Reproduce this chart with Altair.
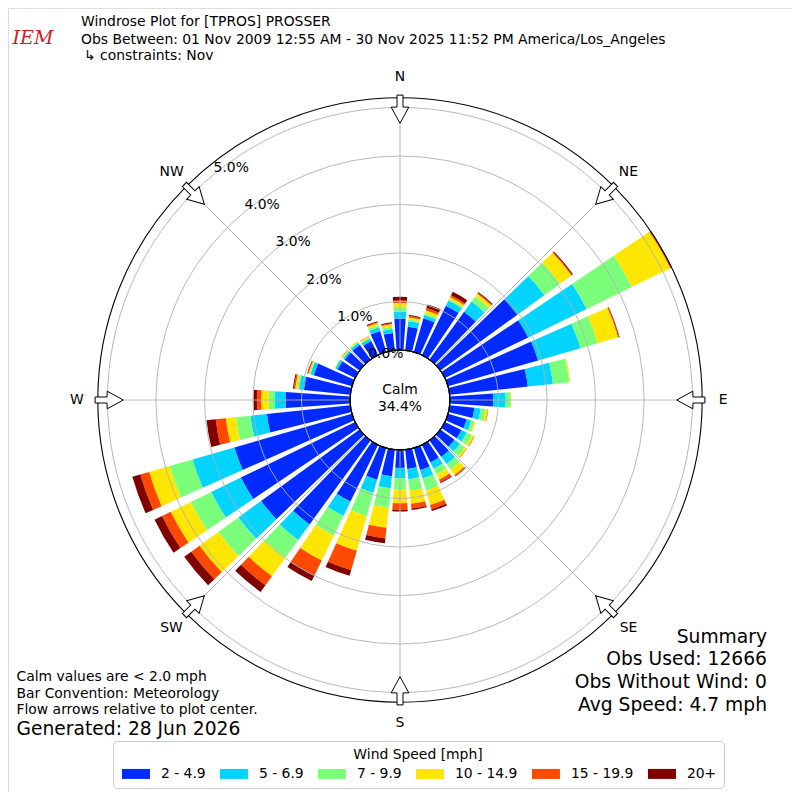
import math
import altair as alt
import pandas as pd

# ---------------- data ----------------
directions = list(range(0, 360, 10))
speed_bins = ["2 - 4.9", "5 - 6.9", "7 - 9.9", "10 - 14.9", "15 - 19.9", "20+"]
bin_colors = ["#002aff", "#00d4ff", "#7bff7b", "#ffe600", "#ff4800", "#800000"]

# percent of observations per direction (0, 10, ..., 350 deg) for each speed bin
pct_2_5 = [0.65, 0.49, 0.72, 1.13, 1.22, 1.96, 1.91, 1.93, 1.62, 0.89, 0.51, 0.40,
           0.38, 0.36, 0.42, 0.40, 0.47, 0.40, 0.37, 0.55, 0.68, 1.30, 2.14, 2.51,
           2.62, 2.52, 1.73, 1.33, 0.96, 0.82, 0.40, 0.38, 0.38, 0.32, 0.45, 0.36]
pct_5_7 = [0.14, 0.11, 0.07, 0.12, 0.26, 0.69, 1.34, 0.91, 0.52, 0.26, 0.13, 0.10,
           0.12, 0.14, 0.18, 0.15, 0.18, 0.21, 0.21, 0.25, 0.28, 0.33, 0.40, 0.58,
           0.68, 0.90, 0.34, 0.22, 0.10, 0.07, 0.05, 0.04, 0.05, 0.06, 0.08, 0.08]
pct_7_10 = [0.10, 0.04, 0.04, 0.03, 0.13, 0.40, 1.04, 0.37, 0.34, 0.10, 0.10, 0.06,
            0.12, 0.13, 0.14, 0.13, 0.26, 0.24, 0.24, 0.40, 0.50, 0.45, 0.45, 0.51,
            0.47, 0.49, 0.30, 0.13, 0.04, 0.02, 0.01, 0.02, 0.02, 0.02, 0.05, 0.05]
pct_10_15 = [0.08, 0.04, 0.06, 0.05, 0.07, 0.29, 0.88, 0.44, 0.02, 0.01, 0.05, 0.03,
             0.05, 0.04, 0.14, 0.12, 0.31, 0.27, 0.28, 0.42, 0.74, 0.57, 0.47, 0.48,
             0.46, 0.44, 0.21, 0.15, 0.04, 0.02, 0.01, 0.02, 0.02, 0.03, 0.04, 0.05]
pct_15_20 = [0.05, 0.03, 0.05, 0.04, 0.02, 0.02, 0.03, 0.02, 0.00, 0.00, 0.01, 0.00,
             0.01, 0.01, 0.03, 0.06, 0.09, 0.10, 0.14, 0.22, 0.42, 0.35, 0.23, 0.21,
             0.20, 0.19, 0.21, 0.09, 0.03, 0.02, 0.00, 0.01, 0.00, 0.01, 0.02, 0.02]
pct_20p = [0.08, 0.02, 0.08, 0.08, 0.02, 0.02, 0.01, 0.01, 0.00, 0.00, 0.00, 0.00,
           0.00, 0.00, 0.01, 0.02, 0.04, 0.03, 0.03, 0.10, 0.12, 0.12, 0.17, 0.18,
           0.17, 0.17, 0.19, 0.07, 0.02, 0.01, 0.00, 0.00, 0.00, 0.00, 0.02, 0.02]
series = [pct_2_5, pct_5_7, pct_7_10, pct_10_15, pct_15_20, pct_20p]

ring_values = [1, 2, 3, 4, 5]
ring_label_values = [0, 1, 2, 3, 4, 5]
ring_labels = ["0.0%", "1.0%", "2.0%", "3.0%", "4.0%", "5.0%"]
compass_names = ["N", "NE", "E", "SE", "S", "SW", "W", "NW"]
compass_bearings = [0, 45, 90, 135, 180, 225, 270, 315]

calm_text = ["Calm", "34.4%"]
title_lines = ["Windrose Plot for [TPROS] PROSSER",
               "Obs Between: 01 Nov 2009 12:55 AM - 30 Nov 2025 11:52 PM America/Los_Angeles",
               "\u21b3 constraints: Nov"]
summary_lines = ["Summary", "Obs Used: 12666", "Obs Without Wind: 0", "Avg Speed: 4.7 mph"]
note_lines = ["Calm values are < 2.0 mph", "Bar Convention: Meteorology",
              "Flow arrows relative to plot center."]
generated_line = "Generated: 28 Jun 2026"

# ---------------- tables ----------------
rows = []
for i, d in enumerate(directions):
    cum = 0.0
    for name, s in zip(speed_bins, series):
        v = s[i]
        if v <= 0:
            continue
        rows.append({"dir": d, "speed": name, "t0": d - 4, "t1": d + 4,
                     "r0": cum, "r1": cum + v})
        cum += v
bars_df = pd.DataFrame(rows)

rings_df = pd.DataFrame({"ring": ring_values})
ring_lab_df = pd.DataFrame({"r": ring_label_values, "label": ring_labels,
                            "ang": [320.4] * len(ring_labels)})
compass_df = pd.DataFrame({"name": compass_names, "bearing": compass_bearings})
one = pd.DataFrame({"k": [0]})

# ---------------- scales ----------------
PX = 48.5            # pixels per percent
RMAX = 5.2
R0P = 50 / PX        # calm radius in percent units
S = 392 / PX         # half extent of plot in percent units

theta_scale = alt.Scale(type="linear", domain=[0, 360], range=[0, 2 * math.pi],
                        nice=False, zero=False)
r_scale = alt.Scale(type="linear", domain=[0, RMAX], range=[50, 50 + RMAX * PX],
                    nice=False, zero=False)
x_scale = alt.Scale(domain=[-S, S], nice=False, zero=False)
y_scale = alt.Scale(domain=[-S, S], nice=False, zero=False)

FONT = "DejaVu Sans"
GRID = "#b0b0b0"

bars = alt.Chart(bars_df).mark_arc(strokeWidth=0).encode(
    theta=alt.Theta("t0:Q", scale=theta_scale, stack=False),
    theta2=alt.Theta2("t1"),
    radius=alt.Radius("r1:Q", scale=r_scale, stack=False),
    radius2=alt.Radius2("r0"),
    color=alt.Color(
        "speed:N",
        scale=alt.Scale(domain=speed_bins, range=bin_colors),
        legend=alt.Legend(
            title="Wind Speed [mph]", orient="none", legendX=105, legendY=733,
            direction="horizontal", columns=6,
            symbolType="M-1,-1H4.6V1H-1Z", symbolSize=100, symbolStrokeWidth=0,
            labelOffset=27, columnPadding=12,
            labelFontSize=13.9, titleFontSize=13.9, titleFontWeight="normal",
            labelFont=FONT, titleFont=FONT, labelColor="black", titleColor="black",
            titleAnchor="middle", titlePadding=5, padding=7,
            strokeColor="#cccccc", fillColor="white", cornerRadius=4,
        ),
    ),
)

rings = alt.Chart(rings_df).mark_arc(filled=False, stroke=GRID, strokeWidth=0.9).encode(
    theta=alt.value(0), theta2=alt.value(2 * math.pi),
    radius=alt.Radius("ring:Q", scale=r_scale, stack=False),
)

spokes = alt.Chart(compass_df).transform_calculate(
    x0=f"{R0P}*sin(datum.bearing*PI/180)",
    y0=f"{R0P}*cos(datum.bearing*PI/180)",
    x1=f"{RMAX + R0P}*sin(datum.bearing*PI/180)",
    y1=f"{RMAX + R0P}*cos(datum.bearing*PI/180)",
).mark_rule(color=GRID, strokeWidth=0.9).encode(
    x=alt.X("x0:Q", scale=x_scale, axis=None), x2=alt.X2("x1"),
    y=alt.Y("y0:Q", scale=y_scale, axis=None), y2=alt.Y2("y1"),
)

calm_disk = alt.Chart(pd.DataFrame({"r": [0]})).mark_arc(
    fill="white", stroke="black", strokeWidth=1).encode(
    theta=alt.value(0), theta2=alt.value(2 * math.pi),
    radius=alt.Radius("r:Q", scale=r_scale, stack=False),
)

outer = alt.Chart(pd.DataFrame({"r": [RMAX]})).mark_arc(
    filled=False, stroke="black", strokeWidth=1.1).encode(
    theta=alt.value(0), theta2=alt.value(2 * math.pi),
    radius=alt.Radius("r:Q", scale=r_scale, stack=False),
)

ARROW_R = 4.965
ARROW_PATH = "M0,-0.94L0.59,0.14L0.2,0.14L0.2,0.94L-0.2,0.94L-0.2,0.14L-0.59,0.14Z"
arrows = alt.Chart(compass_df).transform_calculate(
    ax=f"{ARROW_R + R0P}*sin(datum.bearing*PI/180)",
    ay=f"{ARROW_R + R0P}*cos(datum.bearing*PI/180)",
    rot="datum.bearing + 180",
).mark_point(shape=ARROW_PATH, size=900, filled=True, fill="white", stroke="black",
             strokeWidth=1, opacity=1, fillOpacity=1, strokeOpacity=1).encode(
    x=alt.X("ax:Q", scale=x_scale, axis=None),
    y=alt.Y("ay:Q", scale=y_scale, axis=None),
    angle=alt.Angle("rot:Q", scale=None),
)

dir_labels = alt.Chart(compass_df).transform_calculate(lr="5.63").mark_text(
    fontSize=13.9, font=FONT, color="black", align="center", baseline="middle").encode(
    theta=alt.Theta("bearing:Q", scale=theta_scale, stack=False),
    radius=alt.Radius("lr:Q", scale=r_scale, stack=False),
    text="name:N",
)

ring_text = alt.Chart(ring_lab_df).mark_text(
    fontSize=13.9, font=FONT, color="black", align="left", baseline="bottom").encode(
    theta=alt.Theta("ang:Q", scale=theta_scale, stack=False),
    radius=alt.Radius("r:Q", scale=r_scale, stack=False),
    text="label:N",
)


def label(text, x, y, size=13.9, align="left", baseline="alphabetic", **kw):
    props = dict(text=text, fontSize=size, align=align, baseline=baseline,
                 font=FONT, color="black")
    props.update(kw)
    return alt.Chart(one).mark_text(**props).encode(
        x=alt.value(x - 8), y=alt.value(y - 8))


texts = [
    label(calm_text[0], 400, 390, baseline="middle", align="center"),
    label(calm_text[1], 400, 407, baseline="middle", align="center"),
    label(title_lines[0], 81, 25.7),
    label(title_lines[1], 81, 43.5),
    label(title_lines[2], 84, 60),
    label("IEM", 33, 44, size=19, align="center", font="DejaVu Serif",
          fontStyle="italic", color="#d01c1c"),
]
for i, t in enumerate(summary_lines):
    texts.append(label(t, 767, 642.5 + i * 22.8, size=18.7, align="right"))
for i, t in enumerate(note_lines):
    texts.append(label(t, 16.5, 681 + i * 16.7))
texts.append(label(generated_line, 16.5, 735, size=18.7))

chart = alt.layer(
    bars, rings, spokes, calm_disk, outer, arrows, dir_labels, ring_text, *texts
).properties(
    width=784, height=784, padding=0,
    autosize=alt.AutoSizeParams(type="none"),
).configure_view(stroke=None).configure(font=FONT)

chart.save("out.html", embed_options={"renderer": "svg", "actions": False})
